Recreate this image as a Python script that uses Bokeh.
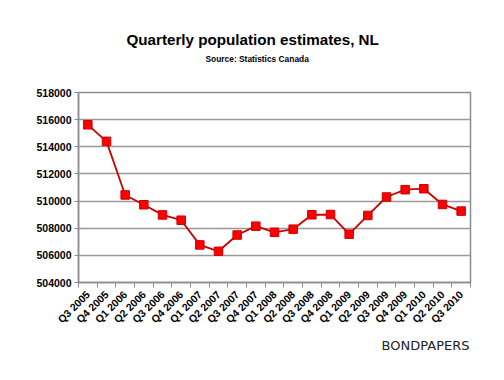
from bokeh.plotting import figure
from bokeh.models import FixedTicker, Range1d, Title, ColumnDataSource, BasicTickFormatter
from bokeh.embed import file_html
from bokeh.resources import INLINE
import math

quarters = ["Q3 2005", "Q4 2005", "Q1 2006", "Q2 2006", "Q3 2006", "Q4 2006",
            "Q1 2007", "Q2 2007", "Q3 2007", "Q4 2007", "Q1 2008", "Q2 2008",
            "Q3 2008", "Q4 2008", "Q1 2009", "Q2 2009", "Q3 2009", "Q4 2009",
            "Q1 2010", "Q2 2010", "Q3 2010"]
population = [515620, 514400, 510450, 509730, 508980, 508590,
              506770, 506300, 507500, 508150, 507700, 507930,
              508990, 509010, 507560, 508940, 510300, 510840,
              510910, 509750, 509260]
y_ticks = [504000, 506000, 508000, 510000, 512000, 514000, 516000, 518000]

title_text = "Quarterly population estimates, NL"
subtitle_text = "Source: Statistics Canada"
brand_text = "BONDPAPERS"

n = len(quarters)
xs = list(range(n))
src = ColumnDataSource(dict(x=xs, y=population))

W, H = 488, 364
p = figure(width=W, height=H, output_backend="svg", toolbar_location=None,
           x_range=Range1d(-0.5, n - 0.5), y_range=Range1d(504000, 518000),
           min_border_left=78, min_border_right=18, min_border_top=92,
           min_border_bottom=82, title=None)
p.background_fill_color = "white"
p.border_fill_color = "white"
p.outline_line_color = "#8c8c8c"
p.outline_line_width = 1.5

# x axis
xa = p.xaxis[0]
xa.ticker = FixedTicker(ticks=xs, minor_ticks=[i - 0.5 for i in range(n + 1)])
xa.major_label_overrides = {i: q for i, q in enumerate(quarters)}
xa.major_label_orientation = math.pi / 4
xa.major_tick_line_color = None
xa.minor_tick_line_color = "#8c8c8c"
xa.minor_tick_out = 5
xa.minor_tick_in = 0
xa.axis_line_color = "#8c8c8c"
xa.axis_line_width = 1.5
xa.major_label_text_font = "Liberation Sans"
xa.major_label_text_font_style = "bold"
xa.major_label_text_font_size = "10.5px"
xa.major_label_text_color = "black"
xa.major_label_standoff = 4

# y axis
ya = p.yaxis[0]
ya.ticker = FixedTicker(ticks=y_ticks, minor_ticks=[])
ya.formatter = BasicTickFormatter(use_scientific=False)
ya.major_tick_line_color = "#8c8c8c"
ya.major_tick_out = 4
ya.major_tick_in = 0
ya.axis_line_color = "#8c8c8c"
ya.axis_line_width = 1.5
ya.major_label_text_font = "Liberation Sans"
ya.major_label_text_font_style = "bold"
ya.major_label_text_font_size = "10.5px"
ya.major_label_text_color = "black"
ya.major_label_standoff = 3

p.xgrid.grid_line_color = None
p.ygrid.ticker = FixedTicker(ticks=y_ticks)
p.ygrid.grid_line_color = "#999999"
p.ygrid.grid_line_width = 1.5

p.line("x", "y", source=src, line_color="#cc0000", line_width=1.8)
p.scatter("x", "y", source=src, marker="square", size=8.5,
          fill_color="#ff0000", line_color="#cc0000", line_width=1)

# spacer keeps the subtitle away from the plot frame
spacer = Title(text=" ", standoff=24, text_font_size="1px")
sub = Title(text=subtitle_text, align="left", offset=127, standoff=4,
            text_font="Liberation Sans", text_font_style="bold",
            text_font_size="8.4px", text_color="black")
main = Title(text=title_text, align="left", offset=48, standoff=4,
             text_font="Liberation Sans", text_font_style="bold",
             text_font_size="15.2px", text_color="black")
p.add_layout(spacer, "above")
p.add_layout(sub, "above")
p.add_layout(main, "above")

brand = Title(text=brand_text, align="right", offset=1, standoff=6,
              text_font="DejaVu Sans", text_font_style="normal",
              text_font_size="13px", text_color="#222222")
p.add_layout(brand, "below")

open("out.html", "w").write(file_html(p, INLINE))
